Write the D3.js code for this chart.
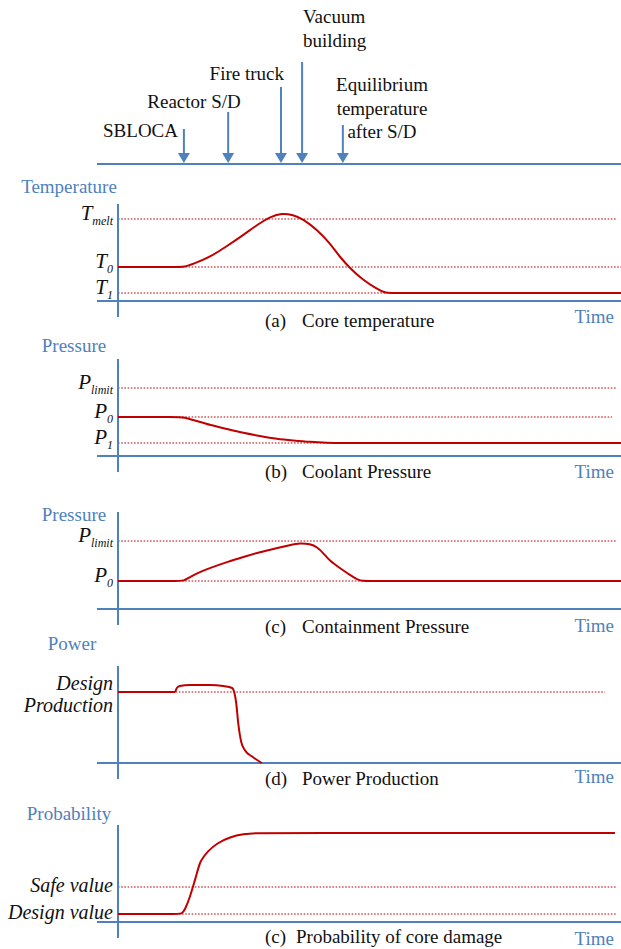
<!DOCTYPE html>
<html>
<head>
<meta charset="utf-8">
<script src="https://cdn.jsdelivr.net/npm/d3@7"></script>
<style>
  body { margin: 0; background: #fff; }
  svg text { font-family: "Liberation Serif", "Times New Roman", "DejaVu Serif", "Noto Serif", serif; }
</style>
</head>
<body>
<svg id="chart" width="621" height="949"></svg>
<script>
// events on the top time line (time in % of the time axis)
const eventNames = [["SBLOCA"], ["Reactor S/D"], ["Fire truck"], ["Vacuum", "building"], ["Equilibrium", "temperature", "after S/D"]];
const eventTimes = [13.1, 21.9, 32.4, 36.6, 44.7];

// (a) core temperature
const tempTimes = [0, 12, 13.1, 14.9, 18.3, 21.7, 24.9, 28.2, 30.2, 32.6, 34.8, 36.8, 39.6, 42.1, 44.1, 46.1, 48.7, 51.5, 53.1, 54.3, 56, 100];
const tempValues = [34, 34, 34, 37, 44, 55, 66, 78, 84, 88, 86, 82, 71, 58, 44, 33, 21, 12, 8, 8, 8, 8];
const tempLevels = [82, 34, 8];
const tempLevelLabels = ["T_melt", "T_0", "T_1"];
const tempLevelEnds = [99.2, 100, 100];

// (b) coolant pressure
const coolTimes = [0, 12, 13.0, 15.7, 18.3, 21.7, 24.9, 28.2, 31.6, 34.8, 38.2, 41.6, 44.7, 47, 100];
const coolValues = [39, 39, 39, 35, 31, 27, 23, 20, 17, 15.5, 14, 13.3, 13, 13, 13];
const coolLevels = [68, 39, 13];
const coolLevelLabels = ["P_limit", "P_0", "P_1"];
const coolLevelEnds = [99.2, 98.2, 99.2];

// (c) containment pressure
const contTimes = [0, 12, 13.0, 14.3, 16.3, 18.3, 21.7, 24.9, 28.2, 31.6, 34.2, 36.2, 38.2, 39.6, 40.8, 42.1, 44.1, 46.1, 47.7, 48.7, 50, 52, 100];
const contValues = [28, 28, 28, 32, 37, 41, 47, 52, 57, 61, 64, 66, 65, 62, 56, 48, 41, 34, 29, 28, 28, 28, 28];
const contLevels = [68, 28];
const contLevelLabels = ["P_limit", "P_0"];
const contLevelEnds = [99.2, 99.2];

// (d) power production
const powerTimes = [0, 11.3, 11.7, 12.3, 14.3, 18.3, 20.9, 22.7, 23.1, 23.5, 23.9, 24.5, 25.2, 26.8, 28.6];
const powerValues = [71, 71, 75, 77, 78, 78, 77, 75, 71, 60, 40, 21, 13, 6, 0];
const powerLevels = [71];
const powerLevelLabels = ["Design\nProduction"];
const powerLevelEnds = [96.8];

// (e) probability of core damage
const probTimes = [0, 11.5, 12.7, 13.3, 14.3, 14.9, 15.7, 16.3, 17.0, 17.7, 19.7, 22.3, 24.9, 27.6, 30, 98.8];
const probValues = [8, 8, 8, 12, 25, 35, 49, 60, 65, 70, 79, 85, 88, 89, 89, 89];
const probLevels = [35, 8];
const probLevelLabels = ["Safe value", "Design value"];
const probLevelEnds = [99.2, 99.2];

const axisTitles = ["Temperature", "Pressure", "Pressure", "Power", "Probability"];
const captionTags = ["(a)", "(b)", "(c)", "(d)", "(c)"];
const captionTexts = ["Core temperature", "Coolant Pressure", "Containment Pressure", "Power Production", "Probability of core damage"];

const blue = "#4f81bd";
const red = "#c00000";
const serif = '"Liberation Serif", "Times New Roman", "DejaVu Serif", "Noto Serif", serif';

const svg = d3.select("#chart").attr("font-family", serif);
const x = d3.scaleLinear().domain([0, 100]).range([118, 621]);

// ---- top time line with events
const lineY = 164;
svg.append("line")
  .attr("x1", 97).attr("x2", 621)
  .attr("y1", lineY).attr("y2", lineY)
  .attr("stroke", blue).attr("stroke-width", 2);

const eventLayout = [
  { top: 129, lx: 178, anchor: "end", ly: [137] },
  { top: 112, lx: 194, anchor: "middle", ly: [108] },
  { top: 87, lx: 284, anchor: "end", ly: [80] },
  { top: 62, lx: 303, anchor: "start", ly: [23, 47] },
  { top: 125, lx: 382, anchor: "middle", ly: [91, 115, 138] }
];

eventTimes.forEach((t, i) => {
  const ex = x(t);
  const lay = eventLayout[i];
  svg.append("line")
    .attr("x1", ex).attr("x2", ex)
    .attr("y1", lay.top).attr("y2", lineY - 10)
    .attr("stroke", blue).attr("stroke-width", 2);
  svg.append("path")
    .attr("d", `M${ex - 6},${lineY - 11} L${ex + 6},${lineY - 11} L${ex},${lineY - 1} Z`)
    .attr("fill", blue);
  eventNames[i].forEach((s, j) => {
    svg.append("text")
      .attr("x", lay.lx).attr("y", lay.ly[j])
      .attr("text-anchor", lay.anchor)
      .attr("font-family", serif)
      .attr("font-size", 19)
      .attr("fill", "#111")
      .text(s);
  });
});

// ---- the five panels
const panels = [
  { times: tempTimes, values: tempValues, levels: tempLevels, labels: tempLevelLabels, ends: tempLevelEnds,
    bottom: 301, titleX: 69, titleY: 193, capY: 327, capX: 302, timeY: 323, curve: d3.curveBasis },
  { times: coolTimes, values: coolValues, levels: coolLevels, labels: coolLevelLabels, ends: coolLevelEnds,
    bottom: 456, titleX: 74, titleY: 352, capY: 478, capX: 302, timeY: 478, curve: d3.curveBasis },
  { times: contTimes, values: contValues, levels: contLevels, labels: contLevelLabels, ends: contLevelEnds,
    bottom: 609, titleX: 74, titleY: 521, capY: 633, capX: 302, timeY: 632, curve: d3.curveBasis },
  { times: powerTimes, values: powerValues, levels: powerLevels, labels: powerLevelLabels, ends: powerLevelEnds,
    bottom: 763, titleX: 72, titleY: 650, capY: 785, capX: 302, timeY: 783, curve: d3.curveMonotoneX },
  { times: probTimes, values: probValues, levels: probLevels, labels: probLevelLabels, ends: probLevelEnds,
    bottom: 922, titleX: 69, titleY: 820, capY: 943, capX: 296, timeY: 945, curve: d3.curveBasis }
];

panels.forEach((p, i) => {
  const y = d3.scaleLinear().domain([0, 100]).range([p.bottom, p.bottom - 100]);
  const g = svg.append("g");

  // dotted reference levels
  p.levels.forEach((v, k) => {
    g.append("line")
      .attr("x1", x(0)).attr("x2", x(p.ends[k]))
      .attr("y1", y(v)).attr("y2", y(v))
      .attr("stroke", red).attr("stroke-width", 1.2)
      .attr("stroke-dasharray", "1.6,1.6");

    const lab = p.labels[k];
    if (lab.includes("_")) {
      const [main, sub] = lab.split("_");
      const t = g.append("text")
        .attr("x", 113).attr("y", y(v) + 1)
        .attr("text-anchor", "end")
        .attr("font-family", serif)
        .attr("font-style", "italic")
        .attr("fill", "#111");
      t.append("tspan").attr("font-size", 21).text(main);
      t.append("tspan").attr("font-size", 12).attr("dy", 5).text(sub);
    } else {
      const lines = lab.split("\n");
      lines.forEach((s, j) => {
        g.append("text")
          .attr("x", 113)
          .attr("y", lines.length === 1 ? y(v) + 5 : y(v) - 2 + 22 * j)
          .attr("text-anchor", "end")
          .attr("font-family", serif)
          .attr("font-style", "italic")
          .attr("font-size", 20)
          .attr("fill", "#111")
          .text(s);
      });
    }
  });

  // axes
  g.append("line")
    .attr("x1", x(0) - 21).attr("x2", x(100))
    .attr("y1", y(0)).attr("y2", y(0))
    .attr("stroke", blue).attr("stroke-width", 2);
  g.append("line")
    .attr("x1", x(0)).attr("x2", x(0))
    .attr("y1", y(97)).attr("y2", y(0) + 16)
    .attr("stroke", blue).attr("stroke-width", 2);

  // curve
  const pts = p.times.map((t, k) => [t, p.values[k]]);
  g.append("path")
    .datum(pts)
    .attr("d", d3.line().x(d => x(d[0])).y(d => y(d[1])).curve(p.curve))
    .attr("fill", "none")
    .attr("stroke", red)
    .attr("stroke-width", 2);

  // texts
  g.append("text")
    .attr("x", p.titleX).attr("y", p.titleY)
    .attr("text-anchor", "middle")
    .attr("font-family", serif)
    .attr("font-size", 19)
    .attr("fill", blue)
    .text(axisTitles[i]);
  g.append("text")
    .attr("x", 265).attr("y", p.capY)
    .attr("font-family", serif)
    .attr("font-size", 19)
    .attr("fill", "#111")
    .text(captionTags[i]);
  g.append("text")
    .attr("x", p.capX).attr("y", p.capY)
    .attr("font-family", serif)
    .attr("font-size", 19)
    .attr("fill", "#111")
    .text(captionTexts[i]);
  g.append("text")
    .attr("x", 614).attr("y", p.timeY)
    .attr("text-anchor", "end")
    .attr("font-family", serif)
    .attr("font-size", 19)
    .attr("fill", blue)
    .text("Time");
});
</script>
</body>
</html>
